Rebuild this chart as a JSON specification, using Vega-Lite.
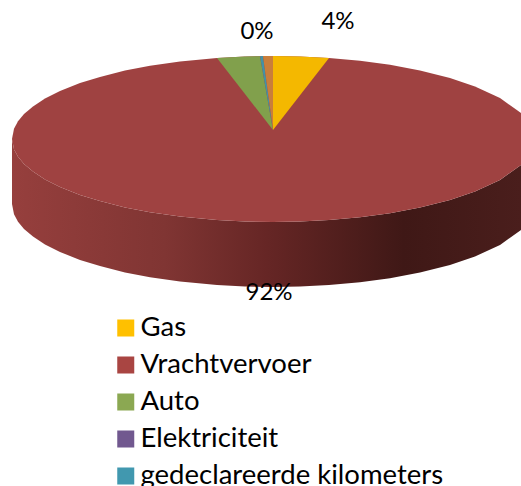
{
"$schema":"https://vega.github.io/schema/vega-lite/v6.json",
"width":521,"height":486,"padding":0,"autosize":{"type":"none"},
"background":"white",
"config":{"view":{"stroke":null}},
"resolve":{"scale":{"color":"independent"}},
"datasets":{
"aandeel":[{"reeks":"Gas","pct":4},{"reeks":"Vrachtvervoer","pct":92},{"reeks":"Auto","pct":4},{"reeks":"Elektriciteit","pct":0},{"reeks":"gedeclareerde kilometers","pct":0}],
"labels":[{"t":"4%","x":338,"y":22},{"t":"0%","x":257,"y":32},{"t":"92%","x":269,"y":293}],
"zijkant":[
{"x":12,"y":139,"y2":204},{"x":14,"y":149.3,"y2":214.3},{"x":18,"y":156.7,"y2":221.7},{"x":24,"y":163.9,"y2":228.9},{"x":33,"y":171.6,"y2":236.6},{"x":45,"y":179.4,"y2":244.4},{"x":60,"y":187,"y2":252},{"x":80,"y":194.9,"y2":259.9},{"x":100,"y":201.1,"y2":266.1},{"x":125,"y":207.4,"y2":272.4},{"x":150,"y":212.2,"y2":277.2},{"x":180,"y":216.6,"y2":281.6},{"x":217,"y":220.1,"y2":285.1},{"x":245,"y":221.5,"y2":286.5},{"x":273,"y":222,"y2":287},{"x":300,"y":221.6,"y2":286.6},{"x":329,"y":220.1,"y2":285.1},{"x":360,"y":217.3,"y2":282.3},{"x":390,"y":213.2,"y2":278.2},{"x":420,"y":207.6,"y2":272.6},{"x":450,"y":200,"y2":265},{"x":475,"y":191.5,"y2":256.5},{"x":500,"y":179.9,"y2":244.9},{"x":521,"y":164.9,"y2":229.9}],
"vlakken":[
{"s":"Vrachtvervoer","x":12,"y":139,"y2":139},{"s":"Vrachtvervoer","x":14,"y":128.7,"y2":149.3},{"s":"Vrachtvervoer","x":18,"y":121.3,"y2":156.7},{"s":"Vrachtvervoer","x":24,"y":114.1,"y2":163.9},{"s":"Vrachtvervoer","x":33,"y":106.4,"y2":171.6},{"s":"Vrachtvervoer","x":45,"y":98.6,"y2":179.4},{"s":"Vrachtvervoer","x":60,"y":91,"y2":187},{"s":"Vrachtvervoer","x":80,"y":83.1,"y2":194.9},{"s":"Vrachtvervoer","x":100,"y":76.9,"y2":201.1},{"s":"Vrachtvervoer","x":125,"y":70.6,"y2":207.4},{"s":"Vrachtvervoer","x":150,"y":65.8,"y2":212.2},{"s":"Vrachtvervoer","x":180,"y":61.4,"y2":216.6},{"s":"Vrachtvervoer","x":217,"y":57.9,"y2":220.1},{"s":"Vrachtvervoer","x":245,"y":56.5,"y2":221.5},{"s":"Vrachtvervoer","x":273,"y":56,"y2":222},{"s":"Vrachtvervoer","x":300,"y":56.4,"y2":221.6},{"s":"Vrachtvervoer","x":329,"y":57.9,"y2":220.1},{"s":"Vrachtvervoer","x":360,"y":60.7,"y2":217.3},{"s":"Vrachtvervoer","x":390,"y":64.8,"y2":213.2},{"s":"Vrachtvervoer","x":420,"y":70.4,"y2":207.6},{"s":"Vrachtvervoer","x":450,"y":78,"y2":200},{"s":"Vrachtvervoer","x":475,"y":86.5,"y2":191.5},{"s":"Vrachtvervoer","x":500,"y":98.1,"y2":179.9},{"s":"Vrachtvervoer","x":521,"y":113.1,"y2":164.9},
{"s":"Gas","x":273,"y":56,"y2":130},{"s":"Gas","x":300,"y":56.4,"y2":95.3},{"s":"Gas","x":329,"y":57.9,"y2":57.9},
{"s":"Auto","x":217,"y":57.9,"y2":57.9},{"s":"Auto","x":245,"y":56.5,"y2":94},{"s":"Auto","x":260,"y":56.2,"y2":113.3},{"s":"Auto","x":273,"y":130,"y2":130},
{"s":"gedeclareerde kilometers","x":260,"y":56.2,"y2":56.2},{"s":"gedeclareerde kilometers","x":263,"y":56.1,"y2":73},{"s":"gedeclareerde kilometers","x":273,"y":130,"y2":130},
{"s":"Overig","x":263,"y":56.1,"y2":56.1},{"s":"Overig","x":273,"y":56,"y2":130}
]},
"layer":[
{"data":{"name":"zijkant"},
 "mark":{"type":"area","color":{"gradient":"linear","x1":0,"x2":1,"y1":0,"y2":0,"stops":[{"offset":0,"color":"#963F3D"},{"offset":0.3,"color":"#803533"},{"offset":0.5,"color":"#662625"},{"offset":0.77,"color":"#3F1816"},{"offset":1,"color":"#4A1E1C"}]}},
 "encoding":{
  "x":{"field":"x","type":"quantitative","scale":{"domain":[0,521]},"axis":null},
  "y":{"field":"y","type":"quantitative","stack":null,"scale":{"domain":[486,0]},"axis":null},
  "y2":{"field":"y2"}}},
{"data":{"name":"vlakken"},
 "mark":{"type":"area"},
 "encoding":{
  "x":{"field":"x","type":"quantitative","scale":{"domain":[0,521]},"axis":null},
  "y":{"field":"y","type":"quantitative","stack":null,"scale":{"domain":[486,0]},"axis":null},
  "y2":{"field":"y2"},
  "color":{"field":"s","type":"nominal","legend":null,"scale":{"domain":["Vrachtvervoer","Gas","Auto","gedeclareerde kilometers","Overig"],"range":["#9F4241","#F4B800","#81A04C","#4192A8","#C97E3B"]}}}},
{"data":{"name":"aandeel"},
 "mark":{"type":"point","filled":true,"size":0,"opacity":0},
 "encoding":{
  "color":{"field":"reeks","type":"nominal",
   "scale":{"domain":["Gas","Vrachtvervoer","Auto","Elektriciteit","gedeclareerde kilometers"],"range":["#FFC000","#A94542","#8BA852","#71588F","#4198AF"]},
   "legend":{"title":null,"orient":"none","legendX":112,"legendY":316,"symbolType":"square","symbolSize":289,"symbolOpacity":1,"symbolStrokeWidth":0,"labelFont":"Lato","labelFontSize":27.5,"labelColor":"#000000","labelLimit":400,"rowPadding":9,"labelOffset":1,"padding":0,"clipHeight":24}}}},
{"data":{"name":"labels"},
 "mark":{"type":"text","font":"Lato","fontSize":24,"color":"#000000","align":"center","baseline":"middle"},
 "encoding":{
  "x":{"field":"x","type":"quantitative","scale":{"domain":[0,521]},"axis":null},
  "y":{"field":"y","type":"quantitative","scale":{"domain":[486,0]},"axis":null},
  "text":{"field":"t"}}}
]
}
